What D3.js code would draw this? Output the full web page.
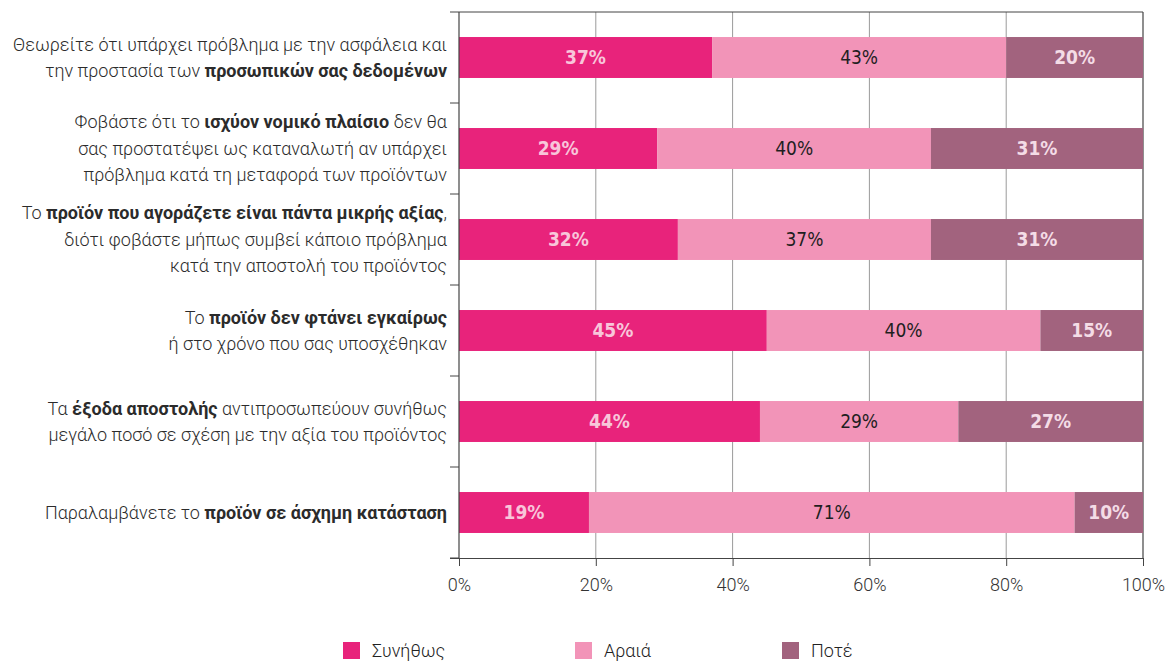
<!DOCTYPE html>
<html>
<head>
<meta charset="utf-8">
<script src="https://cdn.jsdelivr.net/npm/d3@7"></script>
<style>
  html, body { margin: 0; padding: 0; background: #fff; }
  svg { display: block; }
  .ylab { font-family: Roboto, "Noto Sans", sans-serif; font-weight: 300; font-size: 18px; fill: #2b2b2b; }
  .ylab .b { font-weight: 700; }
  .tick-lab { font-family: Roboto, "Noto Sans", sans-serif; font-weight: 300; font-size: 18px; fill: #333; }
  .val { font-family: "Liberation Sans Narrow", "DejaVu Sans Condensed", Roboto, sans-serif; font-size: 19px; }
  .leg { font-family: Roboto, "Noto Sans", sans-serif; font-weight: 300; font-size: 18px; fill: #222; }
</style>
</head>
<body>
<svg id="chart" width="1174" height="664"></svg>
<script>
// ---- data ----
const categories = [
  "Θεωρείτε ότι υπάρχει πρόβλημα με την ασφάλεια και|την προστασία των **προσωπικών σας δεδομένων**",
  "Φοβάστε ότι το **ισχύον νομικό πλαίσιο** δεν θα|σας προστατέψει ως καταναλωτή αν υπάρχει|πρόβλημα κατά τη μεταφορά των προϊόντων",
  "Το **προϊόν που αγοράζετε είναι πάντα μικρής αξίας**,|διότι φοβάστε μήπως συμβεί κάποιο πρόβλημα|κατά την αποστολή του προϊόντος",
  "Το **προϊόν δεν φτάνει εγκαίρως**|ή στο χρόνο που σας υποσχέθηκαν",
  "Τα **έξοδα αποστολής** αντιπροσωπεύουν συνήθως|μεγάλο ποσό σε σχέση με την αξία του προϊόντος",
  "Παραλαμβάνετε το **προϊόν σε άσχημη κατάσταση**"
];
const seriesNames = ["Συνήθως", "Αραιά", "Ποτέ"];
const often  = [37, 29, 32, 45, 44, 19];
const rarely = [43, 40, 37, 40, 29, 71];
const never  = [20, 31, 31, 15, 27, 10];
const xTicks = [0, 20, 40, 60, 80, 100];

// ---- styles ----
const colors = ["#e8237b", "#f294b8", "#a2637e"];
const textColors = ["#f8c6da", "#1f1f1f", "#f4dce6"];

const svg = d3.select("#chart");
const pL = 459, pR = 1143, pT = 12, pB = 558;

const x = d3.scaleLinear().domain([0, 100]).range([pL, pR]);
const y = d3.scaleBand().domain(categories).range([pT, pB])
  .paddingInner(0.55).paddingOuter(0.275);

// gridlines
svg.append("g").selectAll("line").data(xTicks.filter(d => d > 0 && d < 100)).join("line")
  .attr("x1", d => x(d)).attr("x2", d => x(d))
  .attr("y1", pT).attr("y2", pB)
  .attr("stroke", "#9a9a9a").attr("stroke-width", 1);
// right border (100%)
svg.append("line").attr("x1", x(100)).attr("x2", x(100)).attr("y1", pT).attr("y2", pB)
  .attr("stroke", "#444").attr("stroke-width", 1.2);
// top border
svg.append("line").attr("x1", pL - 9).attr("x2", x(100)).attr("y1", pT).attr("y2", pT)
  .attr("stroke", "#444").attr("stroke-width", 1);

// stacked data
const rows = categories.map((c, i) => ({ cat: c, often: often[i], rarely: rarely[i], never: never[i] }));
const stack = d3.stack().keys(["often", "rarely", "never"])(rows);

const layers = svg.append("g").selectAll("g").data(stack).join("g")
  .attr("fill", (d, i) => colors[i]);
layers.selectAll("rect").data(d => d).join("rect")
  .attr("x", d => x(d[0]))
  .attr("width", d => x(d[1]) - x(d[0]))
  .attr("y", d => y(d.data.cat))
  .attr("height", y.bandwidth());

// value labels
stack.forEach((layer, li) => {
  svg.append("g").selectAll("text").data(layer).join("text")
    .attr("class", "val")
    .attr("x", d => (x(d[0]) + x(d[1])) / 2)
    .attr("y", d => y(d.data.cat) + y.bandwidth() / 2)
    .attr("dy", "0.36em")
    .attr("text-anchor", "middle")
    .attr("fill", textColors[li])
    .attr("font-weight", li === 1 ? 400 : 700)
    .text(d => (d[1] - d[0]) + "%");
});

// left axis line + ticks at band boundaries
svg.append("line").attr("x1", pL).attr("x2", pL).attr("y1", pT).attr("y2", pB)
  .attr("stroke", "#444").attr("stroke-width", 1.2);
const gap = (y.step() - y.bandwidth()) / 2;
const boundaries = categories.map(c => y(c) + y.bandwidth() + gap);
svg.append("g").selectAll("line").data(boundaries).join("line")
  .attr("x1", pL - 9).attr("x2", pL).attr("y1", d => d).attr("y2", d => d)
  .attr("stroke", "#444").attr("stroke-width", 1);

// bottom axis
const xAxis = d3.axisBottom(x).tickValues(xTicks).tickFormat(d => d + "%").tickSize(8).tickPadding(12);
const gx = svg.append("g").attr("transform", `translate(0,${pB})`).call(xAxis);
gx.select(".domain").attr("d", `M${pL - 9},0.5H${x(100)}`).attr("stroke", "#444");
gx.selectAll(".tick line").attr("stroke", "#444");
gx.selectAll(".tick text").attr("class", "tick-lab").attr("font-family", null).attr("font-size", null).attr("fill", null);
gx.attr("font-family", null).attr("font-size", null);

// category labels (multi-line, with bold segments)
const lineH = 26.5;
categories.forEach(c => {
  const lines = c.split("|");
  const cy = y(c) + y.bandwidth() / 2;
  const t = svg.append("text").attr("class", "ylab").attr("text-anchor", "end");
  lines.forEach((ln, li) => {
    const yy = cy + (li - (lines.length - 1) / 2) * lineH;
    const lineT = t.append("tspan").attr("x", pL - 12).attr("y", yy).attr("dy", "0.35em");
    const parts = ln.split("**");
    parts.forEach((p, pi) => {
      if (!p) return;
      lineT.append("tspan").text(p).attr("class", pi % 2 === 1 ? "b" : null);
    });
  });
});

// legend
const legX = [343, 575, 782];
const leg = svg.append("g").selectAll("g").data(seriesNames).join("g")
  .attr("transform", (d, i) => `translate(${legX[i]},642)`);
leg.append("rect").attr("width", 17).attr("height", 17).attr("fill", (d, i) => colors[i]);
leg.append("text").attr("class", "leg").attr("x", 29).attr("y", 15).text(d => d);
</script>
</body>
</html>
